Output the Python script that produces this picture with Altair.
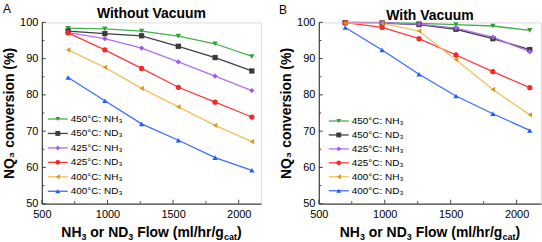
import altair as alt
import pandas as pd

# ---------------- data ----------------
x_flow = [700, 980, 1260, 1540, 1820, 2100]

series_labels = ["450°C: NH₃", "450°C: ND₃", "425°C: NH₃", "425°C: ND₃", "400°C: NH₃", "400°C: ND₃"]

# Panel A: without vacuum
a_450_nh3 = [98.4, 98.2, 97.6, 96.2, 94.1, 90.6]
a_450_nd3 = [97.6, 96.9, 96.3, 93.4, 90.3, 86.6]
a_425_nh3 = [97.2, 95.5, 92.9, 89.1, 85.2, 81.2]
a_425_nd3 = [97.1, 92.4, 87.3, 82.1, 78.0, 73.9]
a_400_nh3 = [92.4, 87.6, 81.8, 76.7, 71.6, 67.1]
a_400_nd3 = [84.8, 78.4, 72.0, 67.5, 62.7, 59.2]

# Panel B: with vacuum
b_450_nh3 = [100.0, 99.9, 99.7, 99.4, 99.0, 97.8]
b_450_nd3 = [99.9, 99.8, 99.4, 98.1, 95.5, 92.5]
b_425_nh3 = [100.0, 99.9, 99.5, 98.4, 95.9, 91.9]
b_425_nd3 = [99.9, 98.6, 95.5, 91.0, 86.4, 82.0]
b_400_nh3 = [99.8, 99.7, 97.6, 89.7, 81.5, 74.5]
b_400_nd3 = [98.6, 92.4, 85.7, 79.7, 74.8, 70.2]

x_ticks = [500, 1000, 1500, 2000]
x_minor = [750, 1250, 1750]
y_ticks = [50, 60, 70, 80, 90, 100]
y_minor = [55, 65, 75, 85, 95]

# ---------------- style ----------------
FONT = "Liberation Sans"
shapes = ["triangle-down", "square", "diamond", "circle", "triangle-left", "triangle-up"]
line_colors = ["#45b04a", "#404040", "#b46cf5", "#ff3a3a", "#f0c060", "#3d6cff"]
marker_colors = ["#2f9e3a", "#3a3a3a", "#a45ae8", "#f22a2a", "#d99a1a", "#1f5cff"]
FRAME = "#444444"

# Arial Bold advance widths (per 1000 em) for the composed x title
BOLD_W = {"N": 722, "H": 722, " ": 278, "o": 611, "r": 389, "D": 722, "F": 611,
          "l": 278, "w": 778, "(": 333, "m": 889, "/": 278, "h": 611, "g": 611,
          ")": 333, "3": 556, "c": 556, "a": 556, "t": 333}


def text_width(s, size):
    return sum(BOLD_W.get(ch, 556) for ch in s) * size / 1000.0


def x_title_layer(W, H):
    main_fs, sub_fs = 14, 9
    segs = [("NH", False), ("3", True), (" ", False), ("or ND", False), ("3", True),
            (" ", False), ("Flow (ml/hr/g", False), ("cat", True), (")", False)]
    total = sum(text_width(t, sub_fs if sub else main_fs) for t, sub in segs)
    x = W / 2.0 - total / 2.0
    base_y = H + 33.5
    rows = []
    for t, sub in segs:
        fs = sub_fs if sub else main_fs
        if t.strip():
            rows.append({"t": t, "px": x, "py": base_y + (3.0 if sub else 0.0), "fs": fs})
        x += text_width(t, fs)
    df = pd.DataFrame(rows)
    return alt.Chart(df).mark_text(font=FONT, fontWeight="bold", align="left",
                                   baseline="alphabetic", color="black").encode(
        x=alt.X("px:Q", scale=None), y=alt.Y("py:Q", scale=None),
        size=alt.Size("fs:Q", scale=None, legend=None), text="t:N")


def panel(series_vals, title, W, H, xdom, title_y, letter, letter_dx, letter_dy,
          leg_x0, leg_y0, leg_dy):
    rows = []
    for lab, vals in zip(series_labels, series_vals):
        for xv, yv in zip(x_flow, vals):
            rows.append({"s": lab, "x": xv, "y": yv})
    df = pd.DataFrame(rows)

    xs = alt.Scale(domain=xdom, nice=False, zero=False)
    ys = alt.Scale(domain=[50, 100], nice=False, zero=False)
    col = alt.Color("s:N", scale=alt.Scale(domain=series_labels, range=line_colors), legend=None)
    fill = alt.Fill("s:N", scale=alt.Scale(domain=series_labels, range=marker_colors), legend=None)
    shp = alt.Shape("s:N", scale=alt.Scale(domain=series_labels, range=shapes), legend=None)

    x_axis = alt.Axis(values=x_ticks, title=None, ticks=False, labelPadding=5, labelFlush=False,
                      labelOverlap=False,
                      labelFontSize=11, labelFont=FONT, labelColor="black", grid=False,
                      domainColor=FRAME, domainWidth=1.2, format="d")
    y_axis = alt.Axis(values=y_ticks, title="NQ₃ conversion (%)", ticks=False, labelPadding=4,
                      labelOverlap=False,
                      labelFontSize=11, labelFont=FONT, labelColor="black", grid=False,
                      domainColor=FRAME, domainWidth=1.2, titleFontSize=14, titleFont=FONT,
                      titleFontWeight="bold", titleColor="black", titlePadding=3)

    base = alt.Chart(df)
    lines = base.mark_line(strokeWidth=1.3).encode(
        x=alt.X("x:Q", scale=xs, axis=x_axis),
        y=alt.Y("y:Q", scale=ys, axis=y_axis),
        color=col, detail="s:N")
    pts = base.mark_point(filled=True, size=28, opacity=1, strokeWidth=0).encode(
        x=alt.X("x:Q", scale=xs, axis=x_axis), y=alt.Y("y:Q", scale=ys, axis=y_axis),
        fill=fill, shape=shp)

    # inward ticks
    xt = pd.DataFrame({"x": x_ticks})
    xm = pd.DataFrame({"x": x_minor})
    yt = pd.DataFrame({"y": y_ticks})
    ym = pd.DataFrame({"y": y_minor})
    xtick = alt.Chart(xt).mark_rule(color=FRAME, strokeWidth=1).encode(
        x=alt.X("x:Q", scale=xs, axis=x_axis), y=alt.value(H), y2=alt.value(H - 4))
    xmtick = alt.Chart(xm).mark_rule(color=FRAME, strokeWidth=1).encode(
        x=alt.X("x:Q", scale=xs, axis=x_axis), y=alt.value(H), y2=alt.value(H - 2.5))
    ytick = alt.Chart(yt).mark_rule(color=FRAME, strokeWidth=1).encode(
        y=alt.Y("y:Q", scale=ys, axis=y_axis), x=alt.value(0), x2=alt.value(4))
    ymtick = alt.Chart(ym).mark_rule(color=FRAME, strokeWidth=1).encode(
        y=alt.Y("y:Q", scale=ys, axis=y_axis), x=alt.value(0), x2=alt.value(2.5))

    # legend drawn inside the plot
    leg = pd.DataFrame({"s": series_labels,
                        "ly": [leg_y0 + i * leg_dy for i in range(len(series_labels))]})
    lb = alt.Chart(leg)
    leg_line = lb.mark_rule(strokeWidth=1.3).encode(
        x=alt.value(leg_x0), x2=alt.value(leg_x0 + 20),
        y=alt.Y("ly:Q", scale=None), color=col)
    leg_pt = lb.mark_point(filled=True, size=24, opacity=1, strokeWidth=0).encode(
        x=alt.value(leg_x0 + 10), y=alt.Y("ly:Q", scale=None), fill=fill, shape=shp)
    leg_txt = lb.mark_text(font=FONT, fontSize=10, align="left", baseline="middle",
                           color="black").encode(
        x=alt.value(leg_x0 + 23), y=alt.Y("ly:Q", scale=None), text="s:N")

    letter_layer = alt.Chart(pd.DataFrame({"t": [letter]})).mark_text(
        font=FONT, fontSize=12, align="left", baseline="alphabetic", color="black").encode(
        x=alt.value(letter_dx), y=alt.value(letter_dy), text="t:N")
    title_layer = alt.Chart(pd.DataFrame({"t": [title]})).mark_text(
        font=FONT, fontSize=14, fontWeight="bold", align="center", baseline="alphabetic",
        color="black").encode(x=alt.value(W / 2.0), y=alt.value(title_y), text="t:N")

    return alt.layer(lines, pts, xtick, xmtick, ytick, ymtick, leg_line, leg_pt, leg_txt,
                     x_title_layer(W, H), letter_layer, title_layer).properties(
        width=W, height=H)


H = 182
chart_a = panel([a_450_nh3, a_450_nd3, a_425_nh3, a_425_nd3, a_400_nh3, a_400_nd3],
                "Without Vacuum", 220, H, [500, 2170], -4.5, "A", -39, -9,
                6, 97, 14.5)
chart_b = panel([b_450_nh3, b_450_nd3, b_425_nh3, b_425_nd3, b_400_nh3, b_400_nd3],
                "With Vacuum", 223, H, [500, 2185], -2, "B", -40, -8,
                10, 99, 14)

chart = alt.hconcat(chart_a, chart_b, spacing=16).properties(
    padding={"left": 2, "top": 2, "right": 0, "bottom": 0}
).configure_view(stroke=FRAME, strokeWidth=1.2).configure(font=FONT)

chart.save("out.html", embed_options={"renderer": "svg", "actions": False})
